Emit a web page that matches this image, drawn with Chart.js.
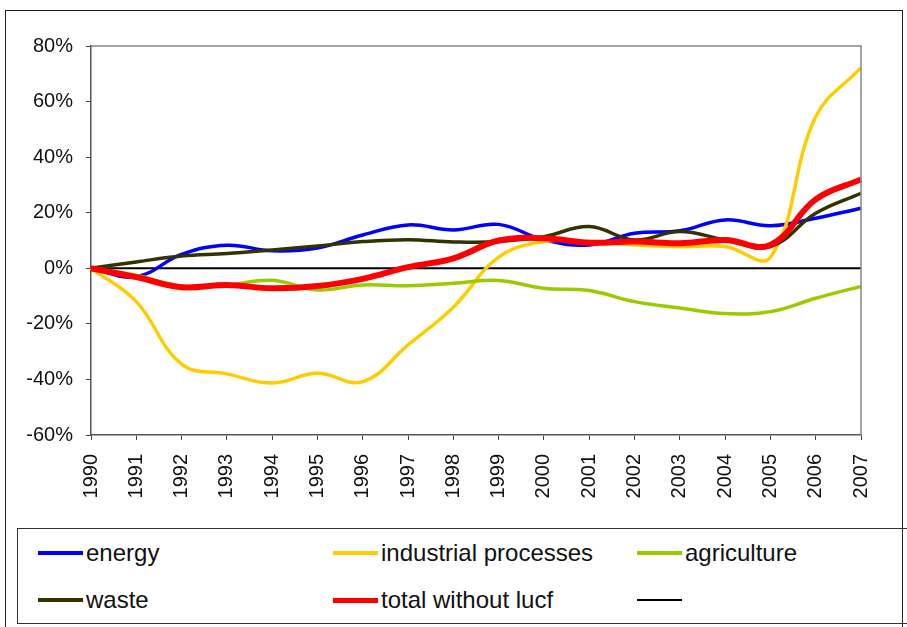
<!DOCTYPE html>
<html>
<head>
<meta charset="utf-8">
<script src="https://cdn.jsdelivr.net/npm/chart.js@4/dist/chart.umd.min.js"></script>
<style>
  body { margin: 0; background: #fff; font-family: 'Liberation Sans', Arial, sans-serif; }
  #page { position: relative; width: 907px; height: 627px; overflow: hidden; }
  #frame { position: absolute; left: 5px; top: 10px; width: 896px; height: 700px; border: 1px solid #222; }
  #chart-box { position: absolute; left: 0; top: 0; width: 907px; height: 527px; }
  #legend { position: absolute; left: 17px; top: 528px; width: 1000px; height: 94px; border: 1px solid #333; }
  .item { position: absolute; height: 30px; display: flex; align-items: center; font-size: 24px; color: #111; white-space: nowrap; }
  .swatch { display: inline-block; width: 45px; margin-right: 3px; }
</style>
</head>
<body>
<div id="page">
  <div id="frame"></div>
  <div id="chart-box"><canvas id="emissions"></canvas></div>
  <div id="legend"></div>
</div>
<script>
const years = ['1990', '1991', '1992', '1993', '1994', '1995', '1996', '1997', '1998',
  '1999', '2000', '2001', '2002', '2003', '2004', '2005', '2006', '2007'];

const energy = [0, -3, 5, 8.3, 6.3, 7.3, 12, 15.6, 13.8, 15.8, 10.2, 8.4, 12.6, 13.5, 17.4, 15.3, 18, 21.6];
const industrialProcesses = [0, -12, -34.5, -38, -41.3, -37.8, -40.8, -27.6, -14, 4, 9.6, 9.6, 8.4, 7.8, 7.8, 4, 54.5, 72.2];
const agriculture = [0, -2.5, -6.4, -6, -4.3, -7.8, -6, -6.3, -5.4, -4.4, -7.2, -8, -12, -14.3, -16.3, -15.6, -10.8, -6.5];
const waste = [0, 2.3, 4.4, 5.3, 6.6, 8, 9.6, 10.3, 9.5, 9.6, 11.4, 15, 10.2, 13.2, 10.2, 7.8, 19.8, 27];
const totalWithoutLucf = [0, -3.2, -6.8, -6, -7.2, -6.4, -3.8, 0.4, 3.6, 10, 10.8, 9.2, 9.6, 9, 10.2, 8.4, 24.8, 32];
const baseline = years.map(() => 0);

const yTicks = [80, 60, 40, 20, 0, -20, -40, -60];

function line(label, data, color, width, order) {
  return {
    label,
    data,
    borderColor: color,
    backgroundColor: color,
    borderWidth: width,
    pointRadius: 0,
    tension: 0.4,
    fill: false,
    order,
  };
}

const datasets = [
  line('energy', energy, '#0000ff', 3.5, 5),
  line('industrial processes', industrialProcesses, '#ffcc00', 3.5, 4),
  line('agriculture', agriculture, '#99cc00', 3.5, 3),
  line('waste', waste, '#333300', 3.5, 2),
  line('total without lucf', totalWithoutLucf, '#ff0000', 6, 1),
  line('', baseline, '#000000', 2, 6),
];
datasets[5].tension = 0;

// top and right edges of the plot area
const plotBorder = {
  id: 'plotBorder',
  afterDraw(chart) {
    const { ctx, chartArea: a } = chart;
    ctx.save();
    ctx.strokeStyle = '#888';
    ctx.lineWidth = 1.5;
    ctx.beginPath();
    ctx.moveTo(a.left, a.top);
    ctx.lineTo(a.right, a.top);
    ctx.lineTo(a.right, a.bottom);
    ctx.stroke();
    ctx.restore();
  },
};

const chart = new Chart(document.getElementById('emissions').getContext('2d'), {
  type: 'line',
  data: { labels: years, datasets },
  plugins: [plotBorder],
  options: {
    responsive: true,
    maintainAspectRatio: false,
    animation: false,
    layout: { padding: { top: 46, right: 46, left: 0, bottom: 0 } },
    plugins: { legend: { display: false }, tooltip: { enabled: false } },
    scales: {
      x: {
        offset: false,
        afterFit: (scale) => { scale.height = 92; },
        grid: { drawOnChartArea: false, drawTicks: true, tickLength: 5, color: '#444', lineWidth: 1 },
        border: { display: true, color: '#555', width: 1.5 },
        ticks: {
          color: '#111',
          maxRotation: 90,
          minRotation: 90,
          autoSkip: false,
          padding: 14,
          font: { family: "'Liberation Sans', Arial, sans-serif", size: 20 },
        },
      },
      y: {
        min: -60,
        max: 80,
        afterFit: (scale) => { scale.width = 91; },
        afterBuildTicks: (scale) => { scale.ticks = yTicks.map((value) => ({ value })); },
        grid: { drawOnChartArea: false, drawTicks: true, tickLength: 5, color: '#444', lineWidth: 1 },
        border: { display: true, color: '#555', width: 1.5 },
        ticks: {
          color: '#111',
          padding: 13,
          callback: (value) => `${value}%`,
          font: { family: "'Liberation Sans', Arial, sans-serif", size: 20 },
        },
      },
    },
  },
});

// legend laid out in three columns like the original
const legendColumns = [0, 295, 599];
const legendRows = [9, 56];
const legend = document.getElementById('legend');
chart.data.datasets.forEach((ds, i) => {
  const item = document.createElement('div');
  item.className = 'item';
  item.style.left = `${20 + legendColumns[i % 3]}px`;
  item.style.top = `${legendRows[Math.floor(i / 3)]}px`;
  const swatch = document.createElement('span');
  swatch.className = 'swatch';
  swatch.style.borderTop = `${ds.borderWidth === 6 ? 5 : ds.borderWidth === 2 ? 2 : 4}px solid ${ds.borderColor}`;
  item.appendChild(swatch);
  item.appendChild(document.createTextNode(ds.label));
  legend.appendChild(item);
});
</script>
</body>
</html>
